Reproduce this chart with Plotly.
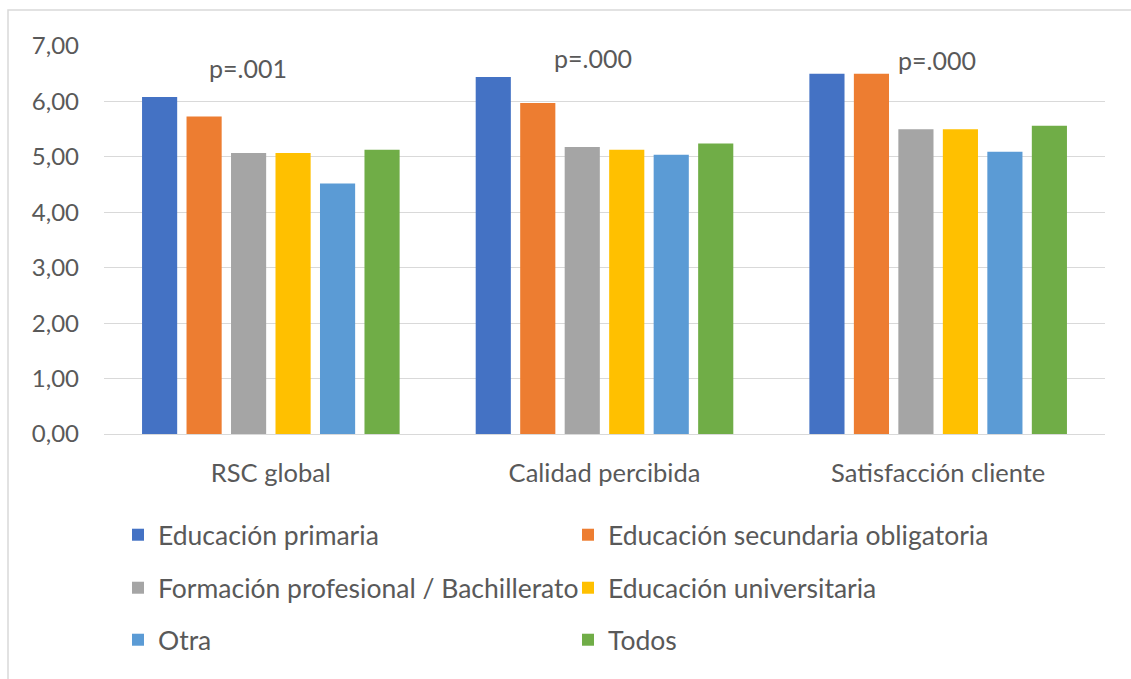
import plotly.graph_objects as go

categories = ["RSC global", "Calidad percibida", "Satisfacción cliente"]

series_names = [
    "Educación primaria",
    "Educación secundaria obligatoria",
    "Formación profesional / Bachillerato",
    "Educación universitaria",
    "Otra",
    "Todos",
]

educacion_primaria = [6.08, 6.44, 6.50]
educacion_secundaria = [5.73, 5.97, 6.50]
formacion_profesional = [5.07, 5.18, 5.50]
educacion_universitaria = [5.07, 5.13, 5.50]
otra = [4.52, 5.04, 5.09]
todos = [5.13, 5.24, 5.56]

p_values = ["p=.001", "p=.000", "p=.000"]
p_label_y = [6.60, 6.79, 6.74]
p_label_xshift = [-23, -12, -1]

y_ticks = [0, 1, 2, 3, 4, 5, 6, 7]

series_values = [
    educacion_primaria,
    educacion_secundaria,
    formacion_profesional,
    educacion_universitaria,
    otra,
    todos,
]
colors = ["#4472C4", "#ED7D31", "#A5A5A5", "#FFC000", "#5B9BD5", "#70AD47"]
legend_ids = ["legend", "legend", "legend2", "legend2", "legend3", "legend3"]

FONT = "Lato, 'Open Sans', sans-serif"
TEXT = "#595959"

fig = go.Figure()
for name, vals, col, lg in zip(series_names, series_values, colors, legend_ids):
    fig.add_trace(go.Bar(
        x=categories, y=vals, name=name,
        marker=dict(color=col, line=dict(width=0)),
        legend=lg,
    ))

for cat, txt, yy, xs in zip(categories, p_values, p_label_y, p_label_xshift):
    fig.add_annotation(
        x=cat, y=yy, xref="x", yref="y", text=txt, showarrow=False,
        xshift=xs, font=dict(family=FONT, size=25, color=TEXT),
    )

W, H = 1131, 679
L, R, T, B = 104, 26, 46, 245
pw, ph = W - L - R, H - T - B


def px_x(v):
    return (v - L) / pw


def px_y(v):
    return (H - B - v) / ph


# outer chart frame
fig.add_shape(
    type="rect", xref="paper", yref="paper",
    x0=px_x(8), x1=px_x(1140), y0=px_y(10), y1=px_y(700),
    line=dict(color="#D9D9D9", width=1.5), fillcolor="rgba(0,0,0,0)", layer="below",
)

legend_common = dict(
    orientation="h", xanchor="left", yanchor="middle",
    entrywidth=405, entrywidthmode="pixels",
    font=dict(family=FONT, size=26.5, color=TEXT),
    bgcolor="rgba(0,0,0,0)", itemwidth=30,
)

fig.update_layout(
    width=W, height=H,
    margin=dict(l=L, r=R, t=T, b=B),
    paper_bgcolor="white", plot_bgcolor="white",
    separators=",.",
    barmode="group", bargap=0.2, bargroupgap=0.21,
    font=dict(family=FONT, color=TEXT),
    xaxis=dict(
        showgrid=False, showline=False, ticks="",
        tickfont=dict(family=FONT, size=25.5, color=TEXT),
        ticklabelstandoff=21,
    ),
    yaxis=dict(
        range=[0, 7], tickvals=y_ticks, tickformat=".2f",
        showgrid=True, gridcolor="#D9D9D9", gridwidth=1.3,
        zeroline=True, zerolinecolor="#D9D9D9", zerolinewidth=1.3,
        showline=False, ticks="",
        tickfont=dict(family=FONT, size=24, color=TEXT),
        ticklabelstandoff=24,
    ),
    legend=dict(x=px_x(118), y=px_y(535), **legend_common),
    legend2=dict(x=px_x(118), y=px_y(588), **legend_common),
    legend3=dict(x=px_x(118), y=px_y(640), **legend_common),
)

fig.write_html("out.html")
